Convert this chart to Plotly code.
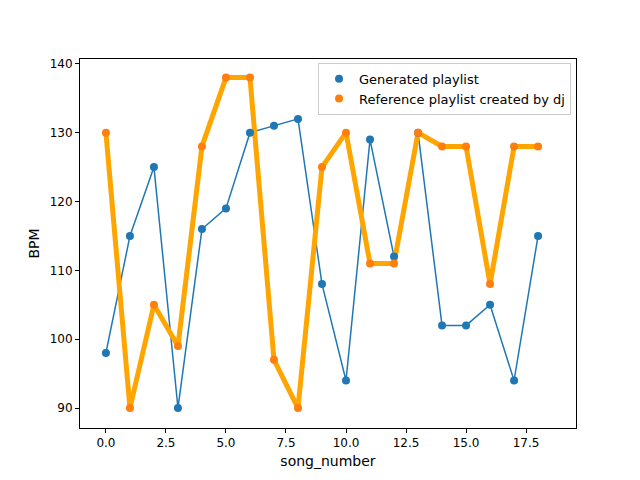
import plotly.graph_objects as go

song_number = list(range(19))
generated_bpm = [98, 115, 125, 90, 116, 119, 130, 131, 132, 108, 94, 129, 112, 130, 102, 102, 105, 94, 115]
reference_bpm = [130, 90, 105, 99, 128, 138, 138, 97, 90, 125, 130, 111, 111, 130, 128, 128, 108, 128, 128]

fig = go.Figure()
fig.add_trace(go.Scatter(x=song_number, y=generated_bpm, mode="lines",
                         line=dict(color="#1f77b4", width=1.5), showlegend=False))
fig.add_trace(go.Scatter(x=song_number, y=reference_bpm, mode="lines",
                         line=dict(color="orange", width=5), showlegend=False))
fig.add_trace(go.Scatter(x=song_number, y=generated_bpm, mode="markers", name="Generated playlist",
                         marker=dict(color="#1f77b4", size=8)))
fig.add_trace(go.Scatter(x=song_number, y=reference_bpm, mode="markers", name="Reference playlist created by dj",
                         marker=dict(color="#ff7f0e", size=8)))

axis = dict(showgrid=False, zeroline=False, showline=True, mirror=True, linecolor="black",
            ticks="outside", ticklen=4, tickcolor="black")
fig.update_xaxes(**axis, range=[-1.08, 19.58], tickvals=[0, 2.5, 5, 7.5, 10, 12.5, 15, 17.5],
                 ticktext=["0.0", "2.5", "5.0", "7.5", "10.0", "12.5", "15.0", "17.5"],
                 title=dict(text="song_number", standoff=6))
fig.update_yaxes(**axis, range=[87.1, 140.7], tickvals=[90, 100, 110, 120, 130, 140],
                 title=dict(text="BPM", standoff=6))
fig.update_layout(width=640, height=480, plot_bgcolor="white", paper_bgcolor="white",
                  margin=dict(l=72, r=72, t=51, b=60),
                  font=dict(family="DejaVu Sans", size=12, color="black"),
                  legend=dict(x=0.99, y=0.99, xanchor="right", yanchor="top", font=dict(size=13),
                              bordercolor="#cccccc", borderwidth=1, bgcolor="rgba(255,255,255,0.8)"))
fig.write_html("out.html")
